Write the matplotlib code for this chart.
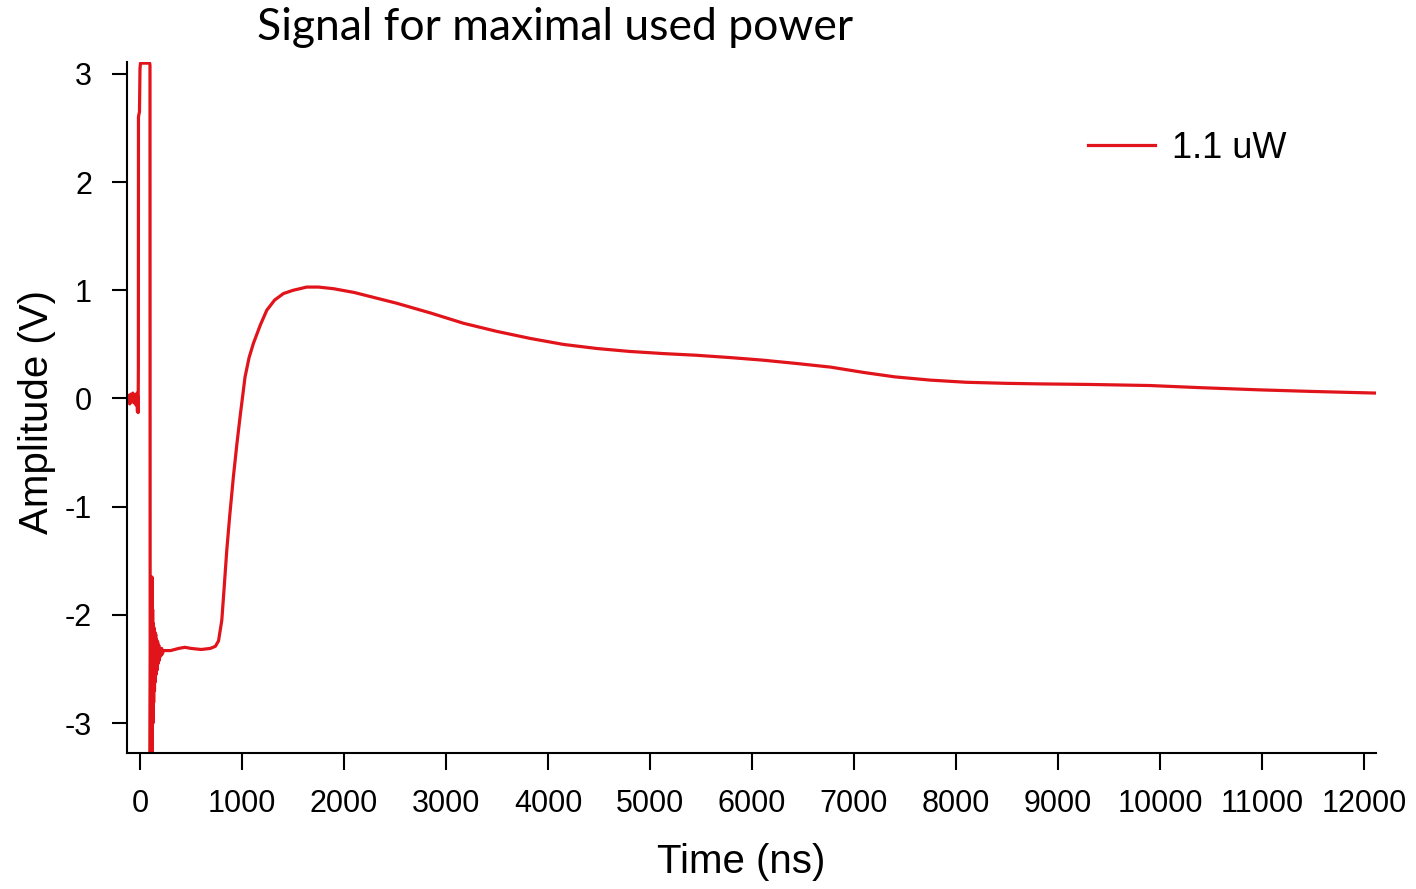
#!/usr/bin/env python3
"""
Photodetector response trace at the highest laser power used.
Output: out.png
"""

import matplotlib
matplotlib.use("Agg")
import matplotlib.pyplot as plt

# Pre-trigger baseline and saturated pulse [ns, V]
PULSE_T = [-130, -120, -110, -100, -90, -80, -70, -60, -50, -40, -30, -25,
           -22, -18, -16, -15, -12, -5, 0, 5, 20, 60, 95, 98]
PULSE_V = [0.02, -0.04, 0.03, -0.05, 0.04, -0.03, 0.05, -0.04, 0.03, -0.06,
           0.05, -0.12, 0.02, -0.13, 0.30, 2.60, 2.62, 2.65, 3.05, 3.10,
           3.10, 3.10, 3.10, 3.08]

# Ringing after the falling edge (clipped below the axis)
RING_T = [100, 104, 108, 112, 114, 117, 120, 124, 128, 130, 134, 138, 142,
          146, 150, 154, 158, 163, 168, 173, 178, 184, 190, 196, 204, 212,
          220, 228]
RING_V = [-3.40, -2.30, -3.40, -2.10, -3.40, -1.65, -3.30, -1.95, -3.00,
          -2.08, -2.81, -2.12, -2.70, -2.16, -2.62, -2.18, -2.55, -2.23,
          -2.51, -2.25, -2.45, -2.28, -2.42, -2.31, -2.38, -2.31, -2.36,
          -2.33]

# Slow response: plateau, recovery and long tail
SLOW_T = [240, 300, 380, 440, 500, 600, 690, 740, 770, 802, 825, 851, 880,
          916, 950, 981, 1030, 1070, 1112, 1180, 1243, 1320, 1406, 1500,
          1635, 1750, 1897, 2100, 2519, 2850, 3173, 3500, 3827, 4150, 4481,
          4800, 5134, 5450, 5790, 6100, 6444, 6771, 7100, 7400, 7747, 8100,
          8500, 8822, 9300, 9897, 10400, 10972, 11500, 12118]
SLOW_V = [-2.33, -2.33, -2.31, -2.30, -2.31, -2.32, -2.31, -2.29, -2.24,
          -2.05, -1.75, -1.40, -1.08, -0.72, -0.42, -0.17, 0.20, 0.38, 0.51,
          0.68, 0.816, 0.91, 0.97, 1.00, 1.03, 1.03, 1.015, 0.98, 0.88, 0.79,
          0.695, 0.62, 0.555, 0.50, 0.462, 0.435, 0.415, 0.40, 0.378, 0.355,
          0.323, 0.29, 0.24, 0.20, 0.17, 0.15, 0.14, 0.135, 0.13, 0.12, 0.10,
          0.08, 0.065, 0.05]

X_TICKS = list(range(0, 12001, 1000))
Y_TICKS = [-3, -2, -1, 0, 1, 2, 3]
LABEL = "1.1 uW"
RED = "#e0141a"

t = PULSE_T + RING_T + SLOW_T
v = PULSE_V + RING_V + SLOW_V

plt.rcParams["font.family"] = ["Liberation Sans", "DejaVu Sans"]

fig = plt.figure(figsize=(14.16, 8.89), dpi=100)
fig.patch.set_facecolor("white")
ax = fig.add_axes([0.0895, 0.1526, 0.8823, 0.7776])

ax.plot(t, v, color=RED, lw=2.3, label=LABEL, solid_joinstyle="round")

ax.set_xlim(-130, 12118)
ax.set_ylim(-3.28, 3.11)
ax.set_xticks(X_TICKS)
ax.set_yticks(Y_TICKS)
ax.set_xticklabels([str(x) for x in X_TICKS])
ax.set_yticklabels([str(y) for y in Y_TICKS])

for side in ("top", "right"):
    ax.spines[side].set_visible(False)
for side in ("left", "bottom"):
    ax.spines[side].set_linewidth(1.5)

ax.tick_params(axis="x", direction="out", length=12, width=1.5,
               labelsize=22, pad=14)
ax.tick_params(axis="y", direction="out", length=11, width=1.5,
               labelsize=22, pad=14)

ax.set_xlabel("Time (ns)", fontsize=29)
ax.xaxis.set_label_coords(0.492, -0.157)
ax.xaxis.label.set_va("center")
ax.set_ylabel("Amplitude (V)", fontsize=29)
ax.yaxis.set_label_coords(-0.0718, 0.494)
ax.yaxis.label.set_va("center")

ax.legend(loc="center left", bbox_to_anchor=(0.7684, 0.8335),
          bbox_transform=fig.transFigure, frameon=False, fontsize=26,
          handlelength=1.85, handletextpad=0.47, borderpad=0,
          borderaxespad=0)

fig.text(555 / 1416, 1 - 27 / 889, "Signal for maximal used power",
         ha="center", va="center", fontsize=32, family=["Lato", "DejaVu Sans"])

fig.savefig("out.png", dpi=100, facecolor="white")
plt.close(fig)
